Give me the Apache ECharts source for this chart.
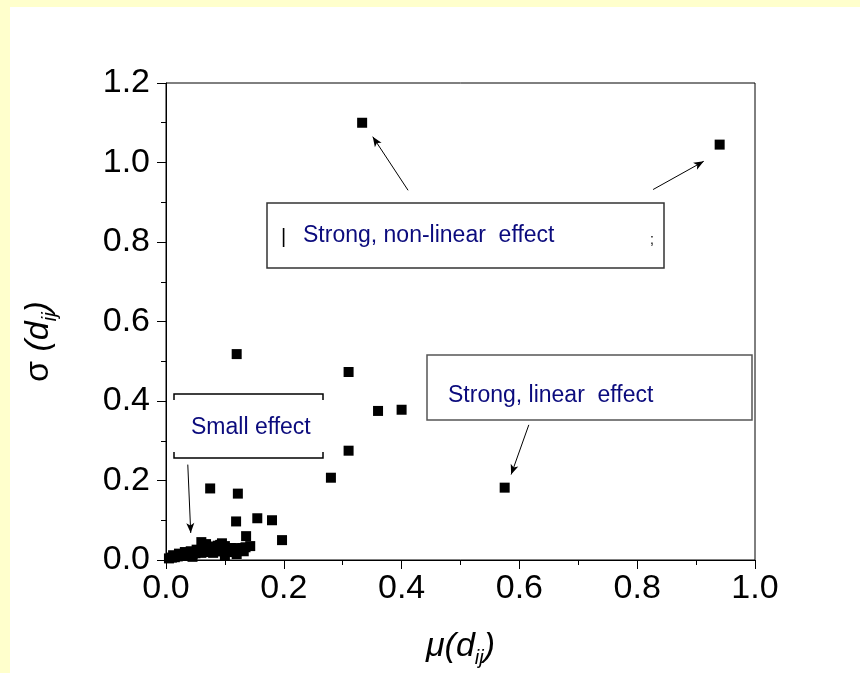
<!DOCTYPE html>
<html>
<head>
<meta charset="utf-8">
<script src="https://cdn.jsdelivr.net/npm/echarts@6/dist/echarts.min.js"></script>
<style>
  html, body { margin: 0; padding: 0; background: #fff; }
  #main { width: 860px; height: 673px; }
</style>
</head>
<body>
<div id="main"></div>
<script>
// 散点数据：mu(dij) 与 sigma(dij)
var muVals = [0.333, 0.94, 0.12, 0.31, 0.36, 0.40, 0.31, 0.28, 0.575, 0.075, 0.122, 0.155, 0.18, 0.119, 0.136, 0.197,
  0.005, 0.01, 0.015, 0.02, 0.025, 0.03, 0.035, 0.04, 0.045, 0.05, 0.055, 0.06, 0.065, 0.07, 0.075, 0.08, 0.085,
  0.09, 0.095, 0.10, 0.105, 0.11, 0.115, 0.12, 0.125, 0.13, 0.135, 0.143, 0.06, 0.095, 0.078, 0.119, 0.10, 0.045,
  0.012, 0.022, 0.032, 0.042, 0.052, 0.062, 0.072, 0.082, 0.092, 0.102, 0.112, 0.122, 0.132, 0.068, 0.088, 0.108];
var sigmaVals = [1.10, 1.045, 0.518, 0.473, 0.375, 0.378, 0.275, 0.207, 0.182, 0.18, 0.167, 0.105, 0.10, 0.097, 0.06, 0.05,
  0.004, 0.006, 0.007, 0.009, 0.01, 0.012, 0.013, 0.014, 0.015, 0.017, 0.02, 0.018, 0.022, 0.02, 0.025, 0.018, 0.022,
  0.03, 0.022, 0.035, 0.025, 0.03, 0.02, 0.015, 0.028, 0.03, 0.032, 0.035, 0.045, 0.042, 0.032, 0.02, 0.012, 0.008,
  0.012, 0.016, 0.02, 0.022, 0.026, 0.03, 0.034, 0.03, 0.038, 0.028, 0.025, 0.03, 0.022, 0.04, 0.036, 0.03];
var xTicks = ['0.0', '0.2', '0.4', '0.6', '0.8', '1.0'];
var yTicks = ['0.0', '0.2', '0.4', '0.6', '0.8', '1.0', '1.2'];

// 箭头（数据坐标）
var arrows = [
  [[0.411, 0.93], [0.351, 1.065]],
  [[0.827, 0.932], [0.913, 1.003]],
  [[0.616, 0.34], [0.586, 0.215]],
  [[0.037, 0.24], [0.042, 0.068]]
];

var points = muVals.map(function (m, i) { return [m, sigmaVals[i]]; });

var myChart = echarts.init(document.getElementById('main'));
var navy = '#0b0b7d';
var fontFam = '"Liberation Sans", Arial, sans-serif';

option = {
  backgroundColor: '#fff',
  animation: false,
  grid: {
    left: 166, right: 105, top: 83, bottom: 110,
    show: true, borderColor: '#000', borderWidth: 1
  },
  xAxis: {
    type: 'value', min: 0, max: 1, interval: 0.2,
    axisLine: { lineStyle: { color: '#000', width: 1 } },
    axisTick: { length: 9, lineStyle: { color: '#000' } },
    minorTick: { show: true, splitNumber: 2, length: 5, lineStyle: { color: '#000' } },
    splitLine: { show: false },
    axisLabel: {
      color: '#000', fontSize: 34, fontFamily: fontFam, margin: 12,
      formatter: function (v) { return xTicks[Math.round(v / 0.2)]; }
    },
    name: '{a|μ(d}{b|ij}{a|)}',
    nameLocation: 'middle', nameGap: 66,
    nameTextStyle: {
      rich: {
        a: { fontSize: 34, fontStyle: 'italic', fontFamily: fontFam, color: '#000', lineHeight: 40 },
        b: { fontSize: 20, fontStyle: 'italic', fontFamily: fontFam, color: '#000', padding: [22, 0, 0, 0] }
      }
    }
  },
  yAxis: {
    type: 'value', min: 0, max: 1.2, interval: 0.2,
    axisLine: { lineStyle: { color: '#000', width: 1 } },
    axisTick: { length: 9, lineStyle: { color: '#000' } },
    minorTick: { show: true, splitNumber: 2, length: 5, lineStyle: { color: '#000' } },
    splitLine: { show: false },
    axisLabel: {
      color: '#000', fontSize: 34, fontFamily: fontFam, margin: 16,
      formatter: function (v) { return yTicks[Math.round(v / 0.2)]; }
    },
    name: '{a|σ }{c|(d}{b|ij}{c|)}',
    nameLocation: 'middle', nameGap: 106,
    nameTextStyle: {
      padding: [0, 40, 0, 0],
      rich: {
        a: { fontSize: 34, fontFamily: fontFam, color: '#000', lineHeight: 40 },
        c: { fontSize: 34, fontStyle: 'italic', fontFamily: fontFam, color: '#000', lineHeight: 40 },
        b: { fontSize: 20, fontStyle: 'italic', fontFamily: fontFam, color: '#000', padding: [22, 0, 0, 0] }
      }
    }
  },
  series: [{
    type: 'scatter',
    symbol: 'rect',
    symbolSize: 10,
    clip: false,
    itemStyle: { color: '#000', opacity: 1 },
    data: points,
    markLine: {
      silent: true,
      symbol: ['none', 'arrow'],
      symbolSize: [6, 10],
      label: { show: false },
      lineStyle: { color: '#000', width: 1, type: 'solid', opacity: 1 },
      data: arrows.map(function (a) {
        return [{ coord: a[0] }, { coord: a[1] }];
      })
    }
  }],
  graphic: [
    // 黄色边框
    { type: 'rect', left: 0, top: 0, shape: { width: 860, height: 7 }, style: { fill: '#ffffcc' }, z: 100 },
    { type: 'rect', left: 0, top: 0, shape: { width: 10, height: 673 }, style: { fill: '#ffffcc' }, z: 100 },
    // Strong, non-linear effect
    { type: 'rect', shape: { x: 267, y: 203, width: 397, height: 65 },
      style: { fill: '#fff', stroke: '#333', lineWidth: 1.5 }, z: 50 },
    { type: 'text', x: 303, y: 236, z: 51,
      style: { text: 'Strong, non-linear  effect', fill: navy, font: '23px ' + fontFam, textVerticalAlign: 'middle' } },
    { type: 'text', x: 281, y: 237, z: 51,
      style: { text: '|', fill: '#000', font: '20px ' + fontFam, textVerticalAlign: 'middle' } },
    { type: 'text', x: 650, y: 240, z: 51,
      style: { text: ';', fill: '#000', font: '14px ' + fontFam, textVerticalAlign: 'middle' } },
    // Strong, linear effect
    { type: 'rect', shape: { x: 427, y: 355, width: 325, height: 65 },
      style: { fill: '#fff', stroke: '#555', lineWidth: 1.5 }, z: 50 },
    { type: 'text', x: 448, y: 396, z: 51,
      style: { text: 'Strong, linear  effect', fill: navy, font: '23px ' + fontFam, textVerticalAlign: 'middle' } },
    // Small effect 括号
    { type: 'polyline', shape: { points: [[174, 400], [174, 394], [323, 394], [323, 400]] },
      style: { stroke: '#000', lineWidth: 1.5, fill: null }, z: 50 },
    { type: 'polyline', shape: { points: [[174, 452], [174, 458], [323, 458], [323, 452]] },
      style: { stroke: '#000', lineWidth: 1.5, fill: null }, z: 50 },
    { type: 'text', x: 191, y: 428, z: 51,
      style: { text: 'Small effect', fill: navy, font: '23px ' + fontFam, textVerticalAlign: 'middle' } }
  ]
};

myChart.setOption(option);
window.addEventListener('resize', function () {
  myChart.resize();
});
</script>
</body>
</html>
